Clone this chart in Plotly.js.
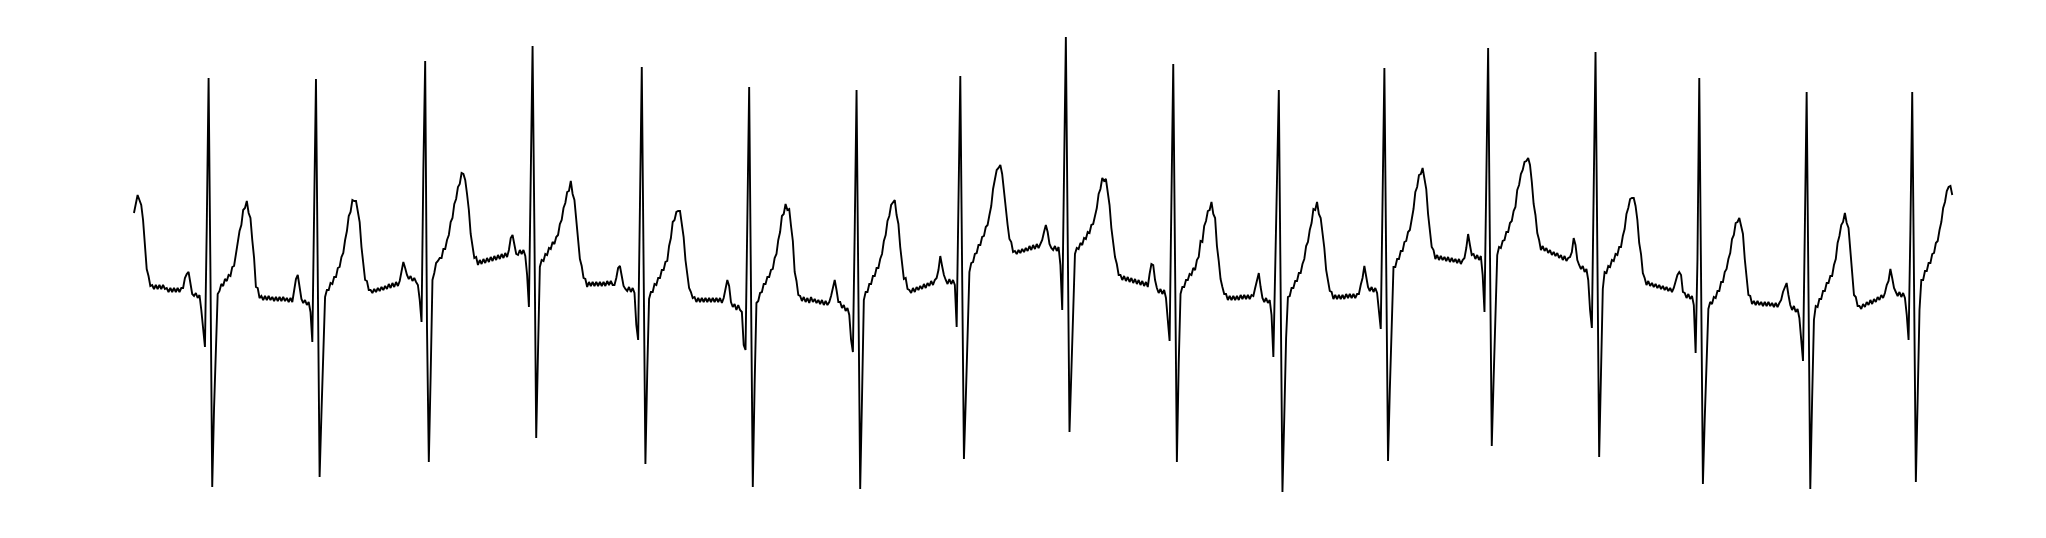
<!DOCTYPE html>
<html>
<head>
<meta charset="utf-8">
<script src="https://cdn.plot.ly/plotly-3.0.1.min.js"></script>
<style>
  html, body { margin: 0; padding: 0; background: #ffffff; }
  #chart { width: 2046px; height: 538px; }
</style>
</head>
<body>
<div id="chart"></div>
<script>
const samplingRateHz = 100;
const startTimeS = 0;
const ecgMv = [
0.77,0.87,0.95,0.9,0.85,0.7,0.4,0.21,0.14,0.04,
0.05,0.01,0.05,0.01,0.05,0.01,0.05,0.01,0.02,-0.02,
0.02,-0.02,0.02,-0.02,0.02,-0.02,0.02,0.02,0.12,0.16,
0.18,0.06,-0.04,-0.06,-0.03,-0.08,-0.05,-0.2,-0.4,-0.57,
0.64,2.12,0.21,-1.97,-1.18,-0.5,-0.04,-0.01,0.06,0.04,
0.11,0.09,0.15,0.14,0.23,0.24,0.37,0.45,0.59,0.65,
0.8,0.82,0.89,0.77,0.72,0.5,0.32,0.03,0.02,-0.08,
-0.06,-0.1,-0.06,-0.1,-0.06,-0.1,-0.07,-0.11,-0.07,-0.11,
-0.07,-0.11,-0.07,-0.11,-0.08,-0.12,-0.08,-0.12,0.02,0.11,
0.15,0.01,-0.09,-0.13,-0.1,-0.15,-0.12,-0.22,-0.52,0.8,
2.11,0.12,-1.87,-1.24,-0.61,-0.07,0,0,0.07,0.06,
0.13,0.13,0.22,0.23,0.33,0.37,0.5,0.59,0.74,0.78,
0.9,0.89,0.89,0.78,0.68,0.43,0.29,0.1,0.09,0,
0,-0.03,0.01,-0.02,0.02,-0.01,0.03,0,0.04,0.01,
0.06,0.02,0.07,0.03,0.08,0.04,0.09,0.18,0.28,0.22,
0.15,0.11,0.14,0.09,0.12,0.08,0.05,-0.1,-0.32,1.2,
2.29,-0.38,-1.72,-0.86,0.1,0.17,0.27,0.29,0.32,0.32,
0.41,0.41,0.5,0.55,0.68,0.72,0.86,0.91,1.03,1.06,
1.17,1.16,1.1,0.96,0.8,0.56,0.44,0.32,0.33,0.25,
0.3,0.26,0.31,0.27,0.32,0.28,0.33,0.29,0.34,0.3,
0.35,0.31,0.36,0.32,0.37,0.33,0.4,0.52,0.55,0.44,
0.36,0.35,0.4,0.36,0.4,0.34,0.15,-0.17,1,2.44,
0.61,-1.48,-0.61,0.23,0.3,0.29,0.36,0.35,0.42,0.41,
0.48,0.46,0.53,0.55,0.66,0.7,0.82,0.87,0.98,0.99,
1.09,0.96,0.9,0.68,0.51,0.31,0.24,0.12,0.11,0.03,
0.08,0.04,0.08,0.04,0.08,0.04,0.08,0.04,0.08,0.04,
0.09,0.05,0.09,0.05,0.05,0.12,0.22,0.24,0.14,0.04,
0.01,-0.01,0.03,-0.02,0.02,-0.03,-0.35,-0.5,0.85,2.23,
0.25,-1.74,-0.82,-0.09,-0.02,-0.02,0.06,0.05,0.12,0.12,
0.2,0.2,0.28,0.29,0.44,0.52,0.68,0.7,0.78,0.79,
0.79,0.63,0.53,0.3,0.18,0.02,-0.02,-0.08,-0.07,-0.12,
-0.08,-0.12,-0.08,-0.12,-0.08,-0.12,-0.08,-0.12,-0.08,-0.12,
-0.08,-0.12,-0.08,-0.13,-0.08,0,0.1,0.04,-0.12,-0.17,
-0.14,-0.2,-0.15,-0.2,-0.22,-0.55,-0.6,0.7,2.03,0.03,
-1.97,-0.95,-0.13,-0.11,-0.03,-0.02,0.06,0.06,0.13,0.13,
0.2,0.21,0.32,0.36,0.5,0.58,0.74,0.76,0.86,0.8,
0.81,0.64,0.49,0.18,0.09,-0.05,-0.06,-0.11,-0.07,-0.12,
-0.08,-0.13,-0.07,-0.12,-0.09,-0.13,-0.1,-0.14,-0.1,-0.15,
-0.11,-0.15,-0.12,-0.06,0.02,0.1,0,-0.12,-0.12,-0.18,
-0.15,-0.21,-0.18,-0.25,-0.5,-0.62,0.6,2,0,-1.99,
-1.08,-0.1,-0.02,-0.02,0.06,0.06,0.14,0.14,0.22,0.22,
0.31,0.36,0.49,0.55,0.69,0.74,0.85,0.87,0.9,0.75,
0.66,0.43,0.28,0.11,0.12,0.01,0,-0.03,0.02,-0.02,
0.03,0,0.04,0.01,0.06,0.02,0.07,0.04,0.09,0.05,
0.1,0.12,0.2,0.34,0.24,0.15,0.1,0.06,0.11,0.06,
0.1,0.05,-0.37,0.9,2.14,0.2,-1.69,-1.1,-0.5,0.18,
0.27,0.28,0.36,0.37,0.45,0.45,0.53,0.54,0.63,0.65,
0.75,0.84,1.01,1.09,1.2,1.22,1.25,1.16,0.99,0.77,
0.65,0.51,0.48,0.38,0.39,0.36,0.4,0.37,0.41,0.38,
0.42,0.39,0.44,0.4,0.45,0.41,0.46,0.42,0.47,0.5,
0.58,0.65,0.58,0.46,0.42,0.4,0.44,0.39,0.43,0.25,
-0.2,1.1,2.53,0.55,-1.42,-0.83,-0.24,0.36,0.42,0.41,
0.47,0.45,0.52,0.51,0.58,0.57,0.65,0.66,0.74,0.82,
0.96,1.01,1.12,1.09,1.11,0.99,0.85,0.62,0.47,0.33,
0.26,0.15,0.15,0.1,0.14,0.09,0.13,0.08,0.12,0.07,
0.11,0.06,0.1,0.05,0.09,0.04,0.08,0.03,0.16,0.26,
0.25,0.1,0.02,-0.03,0.01,-0.04,0,-0.08,-0.3,-0.51,
0.9,2.26,0.25,-1.72,-0.74,-0.04,0.03,0.03,0.1,0.1,
0.16,0.15,0.22,0.2,0.3,0.33,0.49,0.48,0.64,0.69,
0.79,0.8,0.88,0.76,0.72,0.44,0.29,0.11,0.03,-0.04,
-0.04,-0.1,-0.06,-0.1,-0.06,-0.1,-0.06,-0.1,-0.05,-0.09,
-0.05,-0.09,-0.05,-0.09,-0.05,-0.06,0.02,0.1,0.17,0.03,
-0.08,-0.12,-0.08,-0.13,-0.1,-0.25,-0.67,0.2,1.1,2,
0,-2.02,-1.27,-0.48,-0.07,-0.06,0.02,0.02,0.09,0.09,
0.17,0.17,0.26,0.31,0.44,0.48,0.6,0.67,0.81,0.8,
0.88,0.76,0.72,0.57,0.42,0.2,0.07,-0.01,-0.02,-0.09,
-0.05,-0.09,-0.05,-0.09,-0.05,-0.09,-0.04,-0.08,-0.04,-0.08,
-0.04,-0.08,-0.04,-0.04,0.05,0.12,0.24,0.12,0.03,-0.01,
0.03,-0.02,0.02,-0.03,-0.2,-0.39,0.9,2.22,0.25,-1.71,
-0.99,-0.28,0.23,0.23,0.31,0.31,0.39,0.39,0.48,0.49,
0.58,0.6,0.71,0.81,0.98,1.03,1.15,1.16,1.22,1.12,
1.01,0.76,0.61,0.43,0.4,0.31,0.35,0.3,0.34,0.3,
0.33,0.29,0.33,0.28,0.32,0.28,0.31,0.27,0.31,0.26,
0.3,0.32,0.42,0.56,0.45,0.35,0.36,0.31,0.35,0.3,
0.34,0.15,-0.22,1.1,2.42,0.4,-1.56,-0.9,-0.21,0.35,
0.43,0.42,0.49,0.5,0.58,0.58,0.67,0.69,0.79,0.83,
1,1.05,1.16,1.2,1.28,1.29,1.32,1.25,1.08,0.86,
0.75,0.57,0.5,0.4,0.44,0.39,0.42,0.37,0.4,0.35,
0.38,0.34,0.37,0.32,0.35,0.3,0.34,0.29,0.32,0.33,
0.38,0.52,0.45,0.3,0.25,0.21,0.24,0.18,0.21,0.1,
-0.2,-0.38,1,2.38,0.4,-1.67,-0.84,0.01,0.18,0.17,
0.24,0.23,0.3,0.29,0.36,0.35,0.43,0.43,0.54,0.61,
0.76,0.82,0.91,0.92,0.92,0.84,0.7,0.47,0.36,0.17,
0.12,0.05,0.09,0.04,0.07,0.03,0.06,0.02,0.05,0.01,
0.04,0,0.03,-0.01,0.02,-0.02,0.02,0.08,0.15,0.18,
0.15,-0.02,-0.03,-0.08,-0.04,-0.09,-0.06,-0.15,-0.63,0.3,
2.12,0.1,-1.94,-1.29,-0.68,-0.19,-0.12,-0.14,-0.07,-0.08,
-0.01,-0.01,0.08,0.08,0.18,0.21,0.31,0.37,0.51,0.55,
0.67,0.68,0.72,0.62,0.56,0.31,0.16,-0.05,-0.06,-0.14,
-0.11,-0.15,-0.11,-0.15,-0.12,-0.16,-0.12,-0.16,-0.12,-0.16,
-0.13,-0.17,-0.13,-0.17,-0.13,-0.1,-0.02,0.03,0.07,-0.05,
-0.15,-0.2,-0.16,-0.22,-0.19,-0.28,-0.55,-0.71,0.6,1.98,
0,-1.99,-1.1,-0.3,-0.16,-0.17,-0.09,-0.09,-0.01,-0.01,
0.07,0.07,0.14,0.14,0.25,0.31,0.47,0.54,0.65,0.68,
0.77,0.67,0.62,0.41,0.24,-0.05,-0.07,-0.16,-0.16,-0.19,
-0.14,-0.17,-0.12,-0.15,-0.1,-0.14,-0.09,-0.12,-0.07,-0.1,
-0.05,-0.08,-0.03,0.05,0.09,0.21,0.12,0.02,-0.02,-0.06,
-0.02,-0.07,-0.03,-0.08,-0.25,-0.5,0.6,1.98,0.05,-1.92,
-1.08,-0.2,0.1,0.1,0.19,0.19,0.27,0.27,0.36,0.37,
0.47,0.49,0.6,0.68,0.82,0.88,0.99,1.03,1.04,0.95
];

const trace = {
  type: 'scatter',
  mode: 'lines',
  y: ecgMv,
  x0: startTimeS,
  dx: 1 / samplingRateHz,
  line: { color: '#000000', width: 1.9 },
  hoverinfo: 'skip'
};

const layout = {
  width: 2046,
  height: 538,
  margin: { l: 0, r: 0, t: 0, b: 0, pad: 0 },
  paper_bgcolor: '#ffffff',
  plot_bgcolor: '#ffffff',
  showlegend: false,
  xaxis: { visible: false, range: [-0.736, 10.505], showgrid: false, zeroline: false, fixedrange: true },
  yaxis: { visible: false, range: [-2.48, 2.90], showgrid: false, zeroline: false, fixedrange: true }
};

Plotly.newPlot('chart', [trace], layout, { displayModeBar: false, staticPlot: true });
</script>
</body>
</html>
